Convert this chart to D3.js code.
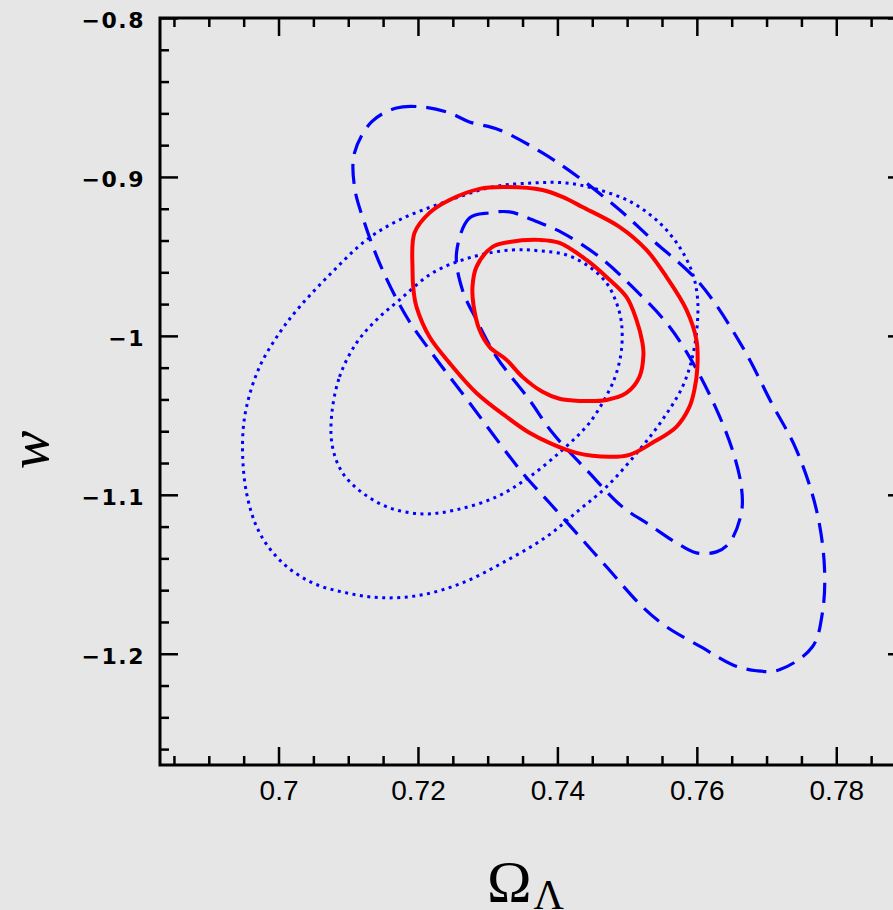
<!DOCTYPE html>
<html>
<head>
<meta charset="utf-8">
<script src="https://cdn.jsdelivr.net/npm/d3@7/dist/d3.min.js"></script>
<style>
  html, body { margin: 0; padding: 0; background: #e6e6e6; }
  svg { display: block; }
  .axis path { display: none; }
  .axis line { stroke: #000; stroke-width: 2.5; }
</style>
</head>
<body>
<div id="chart"></div>
<script>
// data: confidence contours in (Omega_Lambda, w)
var redOuter = [
  [0.71922, -0.9585], [0.7195, -0.9352], [0.72165, -0.9226], [0.72452, -0.9145],
  [0.72882, -0.9075], [0.73212, -0.9063], [0.73786, -0.9082], [0.74073, -0.9126],
  [0.74359, -0.9189], [0.7489, -0.9314], [0.75277, -0.9459], [0.75564, -0.9629],
  [0.75851, -0.9836], [0.75994, -1.0025], [0.76008, -1.0195], [0.75965, -1.034],
  [0.75894, -1.0447], [0.75707, -1.0572], [0.75363, -1.0673], [0.75033, -1.0749],
  [0.74747, -1.0761], [0.74273, -1.0736], [0.73886, -1.0673], [0.73599, -1.061],
  [0.7327, -1.0509], [0.72839, -1.0359], [0.72452, -1.017], [0.72165, -1.0006],
  [0.71979, -0.9818], [0.71936, -0.9711]
];
var redInner = [
  [0.72782, -0.9692], [0.72839, -0.9566], [0.73069, -0.944], [0.73313, -0.9409],
  [0.73743, -0.9396], [0.7403, -0.9415], [0.74417, -0.9522], [0.74704, -0.9629],
  [0.7499, -0.9755], [0.75134, -0.9899], [0.7522, -1.0044], [0.75234, -1.012],
  [0.75177, -1.0258], [0.7499, -1.0359], [0.74704, -1.0403], [0.74316, -1.0409],
  [0.7403, -1.0396], [0.73786, -1.0352], [0.73499, -1.0258], [0.7327, -1.0151],
  [0.73026, -1.0069], [0.72882, -0.9962], [0.72796, -0.9805]
];
var dashOuter = [
  [0.71334, -0.8654], [0.71692, -0.8566], [0.72065, -0.856], [0.72452, -0.8597],
  [0.72739, -0.8654], [0.73169, -0.8704], [0.73786, -0.8849], [0.74316, -0.9006],
  [0.7489, -0.9207], [0.75363, -0.9396], [0.76037, -0.9667], [0.76654, -1.0069],
  [0.7707, -1.0421], [0.77428, -1.0717], [0.77715, -1.1094], [0.7783, -1.1453],
  [0.77801, -1.1742], [0.77658, -1.1956], [0.77184, -1.2101], [0.76855, -1.2107],
  [0.7651, -1.2069], [0.7608, -1.1962], [0.75564, -1.183], [0.7522, -1.1705],
  [0.74704, -1.1453], [0.74359, -1.1283], [0.73886, -1.105], [0.73499, -1.0862],
  [0.72739, -1.0421], [0.72165, -1.0088], [0.71836, -0.988], [0.71491, -0.9585],
  [0.71233, -0.9289], [0.7109, -0.9063], [0.7109, -0.8849]
];
var dashInner = [
  [0.72553, -0.9478], [0.72739, -0.9258], [0.73026, -0.9226], [0.73313, -0.922],
  [0.73642, -0.927], [0.74073, -0.9352], [0.74603, -0.9503], [0.75076, -0.9692],
  [0.75564, -0.9918], [0.75894, -1.0132], [0.76252, -1.0434], [0.7651, -1.0717],
  [0.76639, -1.095], [0.76639, -1.1113], [0.76467, -1.1302], [0.76281, -1.1359],
  [0.75994, -1.1365], [0.75707, -1.1302], [0.7532, -1.1189], [0.74933, -1.1076],
  [0.74417, -1.0843], [0.73929, -1.061], [0.73599, -1.0403], [0.73126, -1.0132],
  [0.72839, -0.9899], [0.72638, -0.9711]
];
var dotOuter = [
  [0.69484, -1.0673], [0.69541, -1.0447], [0.69728, -1.0195], [0.70014, -0.9981],
  [0.70301, -0.9818], [0.70774, -0.9597], [0.71262, -0.9396], [0.71735, -0.927],
  [0.72352, -0.9163], [0.73069, -0.9063], [0.73642, -0.9038], [0.7413, -0.9038],
  [0.74603, -0.9082], [0.75076, -0.9163], [0.75464, -0.9289], [0.7575, -0.944],
  [0.75937, -0.9604], [0.76008, -0.9755], [0.76008, -0.9918], [0.75937, -1.0132],
  [0.75793, -1.0321], [0.75507, -1.0528], [0.75177, -1.0717], [0.74704, -1.095],
  [0.74316, -1.1094], [0.73843, -1.1264], [0.73212, -1.1428], [0.72638, -1.1554],
  [0.72065, -1.1629], [0.71491, -1.1648], [0.70975, -1.1617], [0.70488, -1.1554],
  [0.70057, -1.1428], [0.69728, -1.1239], [0.69541, -1.0988]
];
var dotInner = [
  [0.7076, -1.0509], [0.70875, -1.0258], [0.71119, -1.0044], [0.71405, -0.9899],
  [0.71735, -0.9774], [0.72208, -0.9604], [0.72782, -0.9503], [0.73356, -0.9459],
  [0.73743, -0.9465], [0.7413, -0.9491], [0.7446, -0.9566], [0.74704, -0.9667],
  [0.74847, -0.9792], [0.74919, -0.9918], [0.74919, -1.0088], [0.74847, -1.0233],
  [0.74747, -1.034], [0.7446, -1.0547], [0.74073, -1.0717], [0.73599, -1.0887],
  [0.73126, -1.1013], [0.72553, -1.1094], [0.72065, -1.112], [0.71592, -1.1082],
  [0.71205, -1.0988], [0.70918, -1.0862], [0.70774, -1.0698]
];

// axes
var xDomain = [0.683, 0.79],
    yDomain = [-1.27, -0.8];
var xMajor = [0.7, 0.72, 0.74, 0.76, 0.78],
    xMajorLabels = ['0.7', '0.72', '0.74', '0.76', '0.78'];
var xMinor = [0.685, 0.69, 0.695, 0.705, 0.71, 0.715, 0.725, 0.73, 0.735,
              0.745, 0.75, 0.755, 0.765, 0.77, 0.775, 0.785];
var yMajor = [-0.8, -0.9, -1, -1.1, -1.2],
    yMajorLabels = ['\u22120.8', '\u22120.9', '\u22121', '\u22121.1', '\u22121.2'];
var yMinor = [-0.82, -0.84, -0.86, -0.88, -0.92, -0.94, -0.96, -0.98,
              -1.02, -1.04, -1.06, -1.08, -1.12, -1.14, -1.16, -1.18,
              -1.22, -1.24, -1.26];

var contours = [
  { pts: dotOuter,  color: '#0000ff', width: 3,   dash: '3,4.5' },
  { pts: dotInner,  color: '#0000ff', width: 3,   dash: '3,4.5' },
  { pts: dashOuter, color: '#0000ff', width: 3.2, dash: '20,10' },
  { pts: dashInner, color: '#0000ff', width: 3.2, dash: '20,10' },
  { pts: redOuter,  color: '#ff0000', width: 4,   dash: null },
  { pts: redInner,  color: '#ff0000', width: 4,   dash: null }
];

var outerW = 893, outerH = 910;
var margin = { left: 160, top: 18, right: -13, bottom: 145 };
var w = outerW - margin.left - margin.right,
    h = outerH - margin.top - margin.bottom;

var svg = d3.select('#chart').append('svg')
    .attr('width', outerW)
    .attr('height', outerH);

svg.append('rect')
    .attr('width', outerW).attr('height', outerH)
    .attr('fill', '#e6e6e6');

var g = svg.append('g')
    .attr('transform', 'translate(' + margin.left + ',' + margin.top + ')');

var xScale = d3.scaleLinear().domain(xDomain).range([0, w]),
    yScale = d3.scaleLinear().domain(yDomain).range([h, 0]);

// ticks (all pointing inward)
function addAxis(axis, cls, tr) {
    var a = g.append('g').attr('class', 'axis ' + cls).call(axis);
    if (tr) a.attr('transform', tr);
    return a;
}

var xLab = addAxis(d3.axisBottom(xScale).tickValues(xMajor).tickSize(-18).tickPadding(15)
    .tickFormat(function(d, i) { return xMajorLabels[i]; }), 'x-labels', 'translate(0,' + h + ')');
addAxis(d3.axisBottom(xScale).tickValues(xMinor).tickSize(-9).tickFormat(''), 'x-minor', 'translate(0,' + h + ')');
addAxis(d3.axisTop(xScale).tickValues(xMajor).tickSize(-18).tickFormat(''), 'x-top');
addAxis(d3.axisTop(xScale).tickValues(xMinor).tickSize(-9).tickFormat(''), 'x-top-minor');

var yLab = addAxis(d3.axisLeft(yScale).tickValues(yMajor).tickSize(-18).tickPadding(15)
    .tickFormat(function(d, i) { return yMajorLabels[i]; }), 'y-labels');
addAxis(d3.axisLeft(yScale).tickValues(yMinor).tickSize(-9).tickFormat(''), 'y-minor');
addAxis(d3.axisRight(yScale).tickValues(yMajor).tickSize(-18).tickFormat(''), 'y-right', 'translate(' + w + ',0)');
addAxis(d3.axisRight(yScale).tickValues(yMinor).tickSize(-9).tickFormat(''), 'y-right-minor', 'translate(' + w + ',0)');

xLab.selectAll('text')
    .style('font-family', '"Liberation Sans", Arial, sans-serif')
    .style('font-size', '28px')
    .style('fill', '#000');

yLab.selectAll('text')
    .style('font-family', '"DejaVu Sans", sans-serif')
    .style('font-size', '22px')
    .style('font-weight', 'bold')
    .style('letter-spacing', '1.5px')
    .style('fill', '#000')
    .attr('dy', '0.45em');

// frame
g.append('rect')
    .attr('width', w).attr('height', h)
    .attr('fill', 'none')
    .attr('stroke', '#000')
    .attr('stroke-width', 3);

// contours
var line = d3.line()
    .x(function(d) { return xScale(d[0]); })
    .y(function(d) { return yScale(d[1]); })
    .curve(d3.curveCatmullRomClosed.alpha(0.5));

g.selectAll('.contour')
    .data(contours)
    .enter()
    .append('path')
    .attr('class', 'contour')
    .attr('d', function(d) { return line(d.pts); })
    .attr('fill', 'none')
    .attr('stroke', function(d) { return d.color; })
    .attr('stroke-width', function(d) { return d.width; })
    .attr('stroke-dasharray', function(d) { return d.dash; })
    .attr('stroke-linejoin', 'round');

// axis titles
var xt = svg.append('text')
    .attr('x', 487).attr('y', 902)
    .attr('font-family', '"Liberation Serif", "Times New Roman", serif')
    .attr('font-size', 60)
    .attr('fill', '#000');
xt.append('tspan').text('\u03A9');
xt.append('tspan').attr('font-size', 42).attr('dy', 7).attr('dx', 2).text('\u039B');

svg.append('text')
    .attr('transform', 'translate(48,450) rotate(-90)')
    .attr('text-anchor', 'middle')
    .attr('font-family', '"Liberation Serif", "Times New Roman", serif')
    .attr('font-style', 'italic')
    .attr('font-size', 58)
    .attr('fill', '#000')
    .text('w');
</script>
</body>
</html>
